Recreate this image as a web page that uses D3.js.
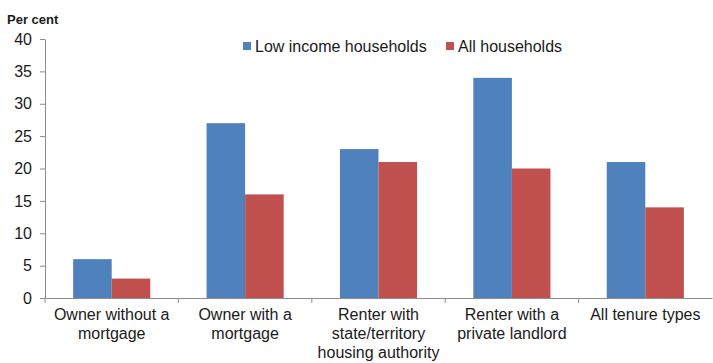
<!DOCTYPE html>
<html>
<head>
<meta charset="utf-8">
<script src="https://cdn.jsdelivr.net/npm/d3@7"></script>
<style>
  html, body { margin: 0; padding: 0; background: #fff; }
  svg { display: block; }
  text { font-family: "Liberation Sans", Arial, sans-serif; fill: #1a1a1a; }
</style>
</head>
<body>
<svg id="chart" width="713" height="363"></svg>
<script>
// ---- data ----
const categories = [
  "Owner without a|mortgage",
  "Owner with a|mortgage",
  "Renter with|state/territory|housing authority",
  "Renter with a|private landlord",
  "All tenure types"
];
const seriesNames = ["Low income households", "All households"];
const lowIncome = [6, 27, 23, 34, 21];
const allHouseholds = [3, 16, 21, 20, 14];
const yTicks = [0, 5, 10, 15, 20, 25, 30, 35, 40];
const yLabel = "Per cent";

const colors = ["#4f81bd", "#c0504d"];
const series = [lowIncome, allHouseholds];

const svg = d3.select("#chart");
const mLeft = 45, mRight = 712, mTop = 39, mBottom = 298;

const x0 = d3.scaleBand().domain(categories).range([mLeft, mRight]).paddingInner(0).paddingOuter(0);
const x1 = d3.scaleBand().domain(seriesNames).range([0, x0.bandwidth()]).paddingInner(0).paddingOuter(0.73);
const y = d3.scaleLinear().domain([0, 40]).range([mBottom, mTop]);

// y label
svg.append("text").attr("x", 7).attr("y", 24)
  .attr("font-family", "'Liberation Sans Narrow', 'Liberation Sans', Arial, sans-serif")
  .attr("font-size", 13).attr("font-weight", "bold").text(yLabel);

// bars
const groups = svg.append("g").selectAll("g").data(categories).join("g")
  .attr("transform", d => `translate(${x0(d)},0)`);
groups.selectAll("rect")
  .data((d, i) => seriesNames.map((s, j) => ({ s, v: series[j][i], c: colors[j] })))
  .join("rect")
  .attr("x", d => x1(d.s))
  .attr("width", x1.bandwidth())
  .attr("y", d => y(d.v))
  .attr("height", d => y(0) - y(d.v))
  .attr("fill", d => d.c);

// y axis
const yAxis = svg.append("g").attr("transform", `translate(${mLeft},0)`)
  .call(d3.axisLeft(y).tickValues(yTicks).tickSize(5).tickPadding(8).tickSizeOuter(0));
yAxis.select(".domain").attr("stroke", "#8c8c8c");
yAxis.selectAll(".tick line").attr("stroke", "#8c8c8c");
yAxis.selectAll(".tick text").attr("font-size", 16).attr("fill", "#1a1a1a")
  .attr("font-family", "'Liberation Sans', Arial, sans-serif");

// x axis
const xAxis = svg.append("g").attr("transform", `translate(0,${mBottom})`)
  .call(d3.axisBottom(x0).tickSize(0).tickSizeOuter(0).tickFormat(""));
xAxis.select(".domain").attr("stroke", "#8c8c8c");
const bounds = categories.map(c => x0(c));
xAxis.selectAll("line.sep").data(bounds).join("line").attr("class", "sep")
  .attr("x1", d => d).attr("x2", d => d).attr("y1", 0).attr("y2", 5)
  .attr("stroke", "#8c8c8c");

// x labels
const lbl = svg.append("g").selectAll("text").data(categories).join("text")
  .attr("text-anchor", "middle")
  .attr("font-size", 16)
  .attr("transform", d => `translate(${x0(d) + x0.bandwidth() / 2},${mBottom + 22})`);
lbl.selectAll("tspan").data(d => d.split("|")).join("tspan")
  .attr("x", 0).attr("dy", (d, i) => i === 0 ? 0 : 19).text(d => d);

// legend
const legendPos = [243, 446];
const leg = svg.append("g").selectAll("g").data(seriesNames).join("g")
  .attr("transform", (d, i) => `translate(${legendPos[i]},46)`);
leg.append("rect").attr("x", 0).attr("y", -4).attr("width", 8).attr("height", 8)
  .attr("fill", (d, i) => colors[i]);
leg.append("text").attr("x", 12).attr("y", 5.5).attr("font-size", 16).text(d => d);
</script>
</body>
</html>
